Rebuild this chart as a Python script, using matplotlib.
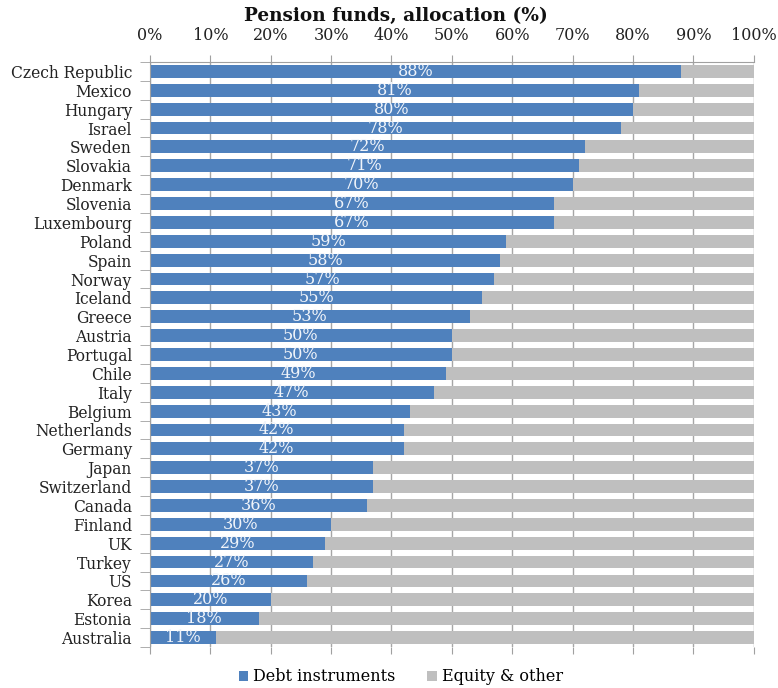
import numpy as np
import matplotlib.pyplot as plt

countries = ["Czech Republic", "Mexico", "Hungary", "Israel", "Sweden", "Slovakia",
             "Denmark", "Slovenia", "Luxembourg", "Poland", "Spain", "Norway",
             "Iceland", "Greece", "Austria", "Portugal", "Chile", "Italy", "Belgium",
             "Netherlands", "Germany", "Japan", "Switzerland", "Canada", "Finland",
             "UK", "Turkey", "US", "Korea", "Estonia", "Australia"]
debt = [88, 81, 80, 78, 72, 71, 70, 67, 67, 59, 58, 57, 55, 53, 50, 50, 49, 47,
        43, 42, 42, 37, 37, 36, 30, 29, 27, 26, 20, 18, 11]
equity = [100 - d for d in debt]

blue = "#4F81BD"
grey = "#BFBFBF"
plt.rcParams['font.family'] = ['DejaVu Serif']

fig = plt.figure(figsize=(7.78, 6.88), dpi=100)
ax = fig.add_axes([0.1928, 0.0596, 0.776, 0.8503])

y = np.arange(len(countries))
ax.barh(y, debt, height=0.68, color=blue, label="Debt instruments", zorder=2)
ax.barh(y, equity, left=debt, height=0.68, color=grey, label="Equity & other", zorder=2)

for yi, d in zip(y, debt):
    ax.text(d / 2, yi, f"{d}%", ha="center", va="center", color="#F0F4FA",
            fontsize=11.5, zorder=3)

ax.set_xlim(0, 100)
ax.set_ylim(len(countries) - 0.5, -0.5)
ax.set_yticks(y)
ax.set_yticklabels(countries, fontsize=11.2, color="#222222")
ax.set_yticks(np.arange(-0.5, len(countries), 1), minor=True)
ax.tick_params(axis="y", which="major", length=0, pad=13)
ax.tick_params(axis="y", which="minor", length=7, color="#A0A0A0")

ax.set_xticks(np.arange(0, 101, 10))
ax.set_xticklabels([f"{v}%" for v in range(0, 101, 10)], fontsize=11.5, color="#222222")
ax.tick_params(axis="x", top=True, bottom=True, labeltop=True, labelbottom=False,
               length=5, color="#A0A0A0", pad=8)
ax.grid(axis="x", color="#A6A6A6", linewidth=1, zorder=0)

for s in ["right", "bottom"]:
    ax.spines[s].set_visible(False)
for s in ["top", "left"]:
    ax.spines[s].set_color("#A0A0A0")

fig.text(0.509, 0.977, "Pension funds, allocation (%)", fontsize=13.3,
         fontweight="bold", ha="center", va="center", color="#111111")

fig.legend(loc="center", bbox_to_anchor=(0.515, 0.016), ncol=2, frameon=False,
           fontsize=11.5, handlelength=0.6, handleheight=0.6, columnspacing=2.0,
           handletextpad=0.3)

fig.savefig("out.png", dpi=100)
